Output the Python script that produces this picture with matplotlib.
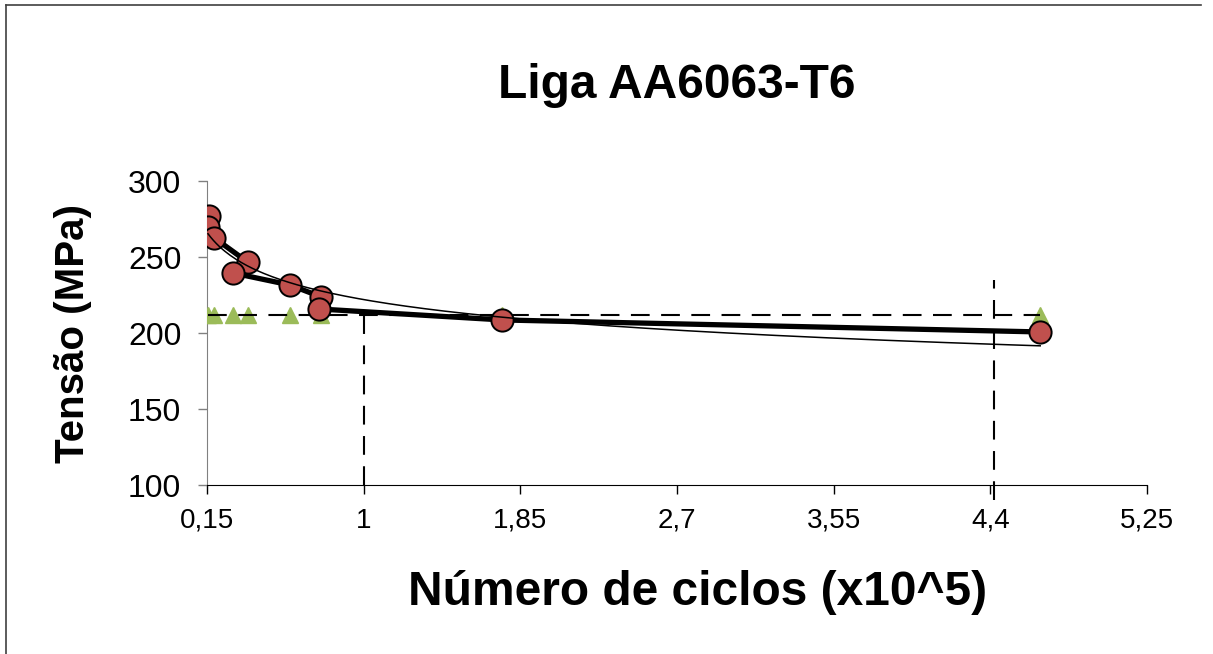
import numpy as np
import matplotlib
matplotlib.use("Agg")
from matplotlib import pyplot as plt
from matplotlib.lines import Line2D

plt.rcParams['font.family'] = ['Liberation Sans', 'DejaVu Sans']

# tensile stress data (x10^5 cycles, MPa)
ciclos = [0.16, 0.155, 0.19, 0.37, 0.29, 0.60, 0.77, 0.76, 1.75, 4.67]
tensao = [277, 270, 262.5, 246.7, 239.5, 231.6, 223.7, 215.8, 208.6, 200.7]

# fatigue limit reference series
ciclos_lim = [0.155, 0.19, 0.29, 0.37, 0.60, 0.77, 1.75, 4.67]
tensao_lim = [212] * len(ciclos_lim)

x_ticks = [0.15, 1, 1.85, 2.7, 3.55, 4.4, 5.25]
x_labels = ['0,15', '1', '1,85', '2,7', '3,55', '4,4', '5,25']
y_ticks = [100, 150, 200, 250, 300]

x_ref = 1.0
x_ref2 = 4.42
y_ref2_top = 235

fig = plt.figure(figsize=(12.13, 6.54), dpi=100)
ax = fig.add_axes([0.1707, 0.2584, 0.775, 0.4648])

red = '#C0504D'
green = '#9BBB59'

# power trendline
b, ln_a = np.polyfit(np.log(ciclos), np.log(tensao), 1)
xs = np.linspace(min(ciclos), max(ciclos), 300)
ys = np.exp(ln_a) * xs ** b

ax.plot(ciclos, tensao, color='black', lw=3.8, zorder=2, solid_capstyle='butt')
ax.plot(ciclos_lim, tensao_lim, ls='none', marker='^', ms=12,
        color=green, zorder=3)
ax.plot(ciclos, tensao, ls='none', marker='o', ms=16,
        mfc=red, mec='black', mew=1.4, zorder=4)
ax.plot(xs, ys, color='black', lw=1.1, zorder=5)

dash = (0, (9, 5.5))
ax.plot([min(ciclos_lim), max(ciclos_lim)], [tensao_lim[0]] * 2,
        color='black', lw=1.5, ls=dash, zorder=3)
ax.plot([x_ref, x_ref], [100, tensao_lim[0]], color='black', lw=1.5,
        ls=dash, zorder=3)
ax.plot([x_ref2, x_ref2], [90, y_ref2_top], color='black', lw=1.5,
        ls=dash, zorder=3, clip_on=False)

ax.set_xlim(0.15, 5.25)
ax.set_ylim(100, 300)
ax.set_xticks(x_ticks)
ax.set_xticklabels(x_labels)
ax.set_yticks(y_ticks)
ax.tick_params(axis='both', length=6.5, width=1, direction='out')
ax.tick_params(axis='x', labelsize=20, pad=10, colors='black')
ax.tick_params(axis='y', labelsize=23, pad=12, color='#808080')

for side in ['top', 'right']:
    ax.spines[side].set_visible(False)
ax.spines['left'].set_color('#808080')
ax.spines['bottom'].set_color('black')

ax.set_title('Liga AA6063-T6', fontsize=34.5, fontweight='bold', pad=60)
ax.set_xlabel('Número de ciclos (x10^5)', fontsize=34.5, fontweight='bold',
              labelpad=26, x=0.522)
ax.set_ylabel('Tensão (MPa)', fontsize=29, fontweight='bold', labelpad=26)

# chart frame (top and left edges)
fig.add_artist(Line2D([0.005, 0.99], [0.992, 0.992], color='#404040',
                      lw=1.2, transform=fig.transFigure))
fig.add_artist(Line2D([0.005, 0.005], [0.0, 0.992], color='#404040',
                      lw=1.2, transform=fig.transFigure))

fig.savefig('out.png', dpi=100)
